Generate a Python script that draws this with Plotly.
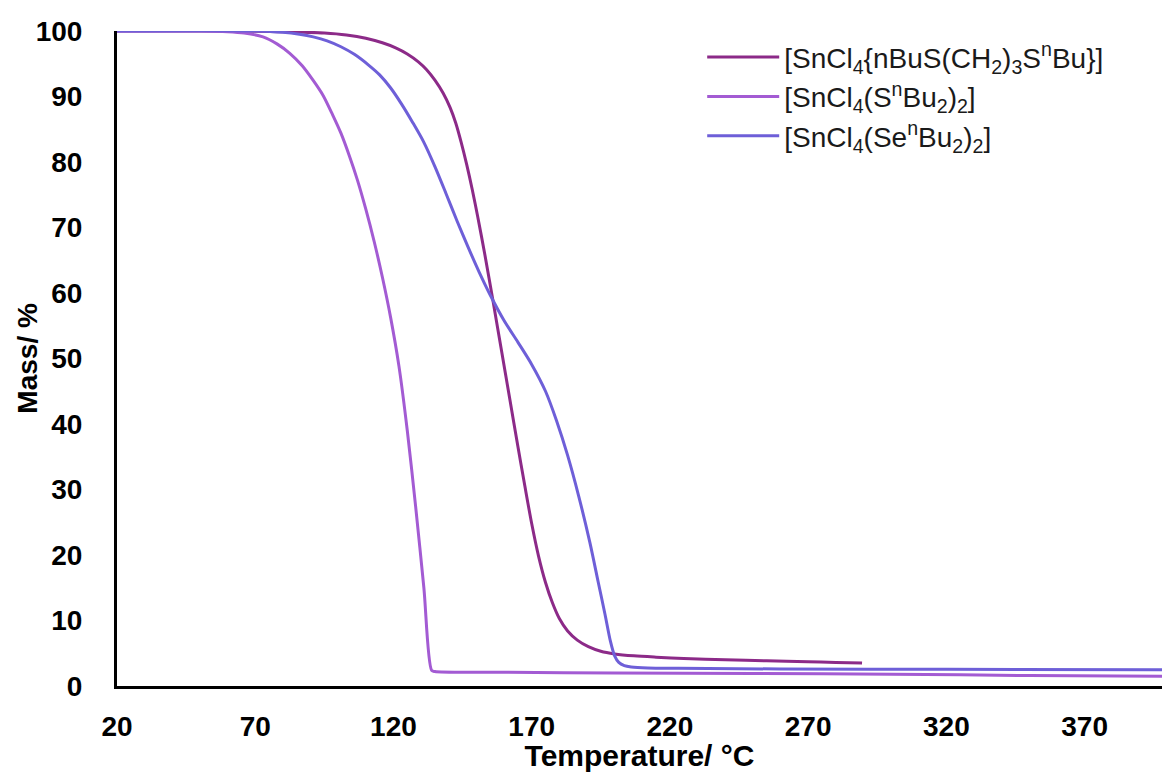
import plotly.graph_objects as go

# TGA traces: temperature (°C) vs. remaining mass (%)
temp_dithioether = [20, 60, 80, 95, 103, 110, 116, 121, 125, 129, 132, 135, 138, 140.5, 142.5,
                    144.5, 146.5, 148.5, 150.5, 153, 156, 159, 162, 165, 167.5, 170, 172.5,
                    175, 177.5, 180, 183, 186.5, 190.5, 195, 200, 207, 215, 225, 240, 255,
                    270, 280, 289.5]
mass_dithioether = [100, 100, 99.9, 99.7, 99.4, 98.9, 98.2, 97.4, 96.5, 95.3, 94.1, 92.5, 90.5,
                    88.3, 86.0, 83.0, 79.6, 75.8, 71.6, 66.0, 58.8, 51.4, 44.0, 36.6, 30.6,
                    24.8, 19.8, 15.8, 12.7, 10.3, 8.4, 7.0, 6.0, 5.3, 4.9, 4.6, 4.4, 4.2, 4.0,
                    3.85, 3.7, 3.6, 3.5]

temp_thioether = [20, 50, 60, 66, 72.8, 78, 82.5, 87, 90.9, 94.5, 98, 101, 104, 107, 110, 113,
                  116, 119, 122, 125, 128, 131, 133.8, 135, 160, 200, 250, 300, 350, 398]
mass_thioether = [100, 100, 99.9, 99.7, 99.1, 98.0, 96.6, 94.7, 92.5, 90.2, 87.2, 84.4, 81.0,
                  77.2, 72.8, 67.9, 62.4, 56.2, 48.8, 39.0, 27.5, 15.0, 2.4, 2.2, 2.1, 2.0,
                  1.9, 1.8, 1.6, 1.5]

temp_selenoether = [20, 70, 80, 86, 91, 96, 101, 106, 111, 115, 119, 123, 127, 131, 135, 139,
                    143, 147, 151, 155, 160, 165, 170, 175, 179, 183, 187, 191, 194, 196.5,
                    198.5, 200, 201.5, 203.5, 206, 212, 223, 260, 320, 398]
mass_selenoether = [100, 100, 99.8, 99.5, 99.1, 98.5, 97.6, 96.4, 94.8, 93.3, 91.3, 88.8, 86.0,
                    83.0, 79.3, 75.2, 71.0, 67.0, 63.2, 59.7, 55.8, 52.5, 49.1, 45.0, 40.5,
                    35.2, 29.0, 22.0, 16.0, 11.0, 6.8, 4.6, 3.6, 3.1, 2.9, 2.75, 2.7, 2.6,
                    2.55, 2.5]

series_names = [
    "[SnCl<sub>4</sub>{nBuS(CH<sub>2</sub>)<sub>3</sub>S<sup>n</sup>Bu}]",
    "[SnCl<sub>4</sub>(S<sup>n</sup>Bu<sub>2</sub>)<sub>2</sub>]",
    "[SnCl<sub>4</sub>(Se<sup>n</sup>Bu<sub>2</sub>)<sub>2</sub>]",
]
series_colors = ["#8C2A88", "#A35BD3", "#6E5FD8"]

x_ticks = [20, 70, 120, 170, 220, 270, 320, 370]
y_ticks = [0, 10, 20, 30, 40, 50, 60, 70, 80, 90, 100]

fig = go.Figure()
for name, xs, ys, color in zip(
    series_names,
    [temp_dithioether, temp_thioether, temp_selenoether],
    [mass_dithioether, mass_thioether, mass_selenoether],
    series_colors,
):
    fig.add_trace(go.Scatter(
        x=xs, y=ys, name=name, mode="lines",
        line=dict(color=color, width=3, shape="spline", smoothing=0.8),
    ))

FAMILY = "Liberation Sans, Arial, sans-serif"
tick_font = dict(family=FAMILY, size=28, color="black", weight="bold")

fig.update_layout(
    width=1162, height=772,
    margin=dict(l=117, r=0, t=31, b=86),
    paper_bgcolor="white", plot_bgcolor="white",
    showlegend=True,
    legend=dict(
        x=0.56, y=0.998, xanchor="left", yanchor="top",
        bgcolor="rgba(0,0,0,0)",
        font=dict(family=FAMILY, size=28, color="#1a1a1a"),
        itemwidth=72, tracegroupgap=0,
    ),
    xaxis=dict(
        range=[20, 398], tickvals=x_ticks, ticktext=[str(v) for v in x_ticks],
        showgrid=False, zeroline=False, showline=True, linecolor="black", linewidth=3,
        ticks="", tickfont=tick_font, ticklabelstandoff=13,
        title=dict(text="Temperature/ °C",
                   font=dict(family=FAMILY, size=30, color="black", weight="bold"), standoff=6),
    ),
    yaxis=dict(
        range=[0, 100], tickvals=y_ticks, ticktext=[str(v) for v in y_ticks],
        showgrid=False, zeroline=False, showline=True, linecolor="black", linewidth=3,
        ticks="", tickfont=tick_font, ticklabelstandoff=26,
    ),
    annotations=[dict(
        text="Mass/ %", textangle=-90, showarrow=False,
        xref="paper", yref="paper", x=-0.086, y=0.5, xanchor="center", yanchor="middle",
        font=dict(family=FAMILY, size=28, color="black", weight="bold"),
    )],
)

fig.write_html("out.html")
